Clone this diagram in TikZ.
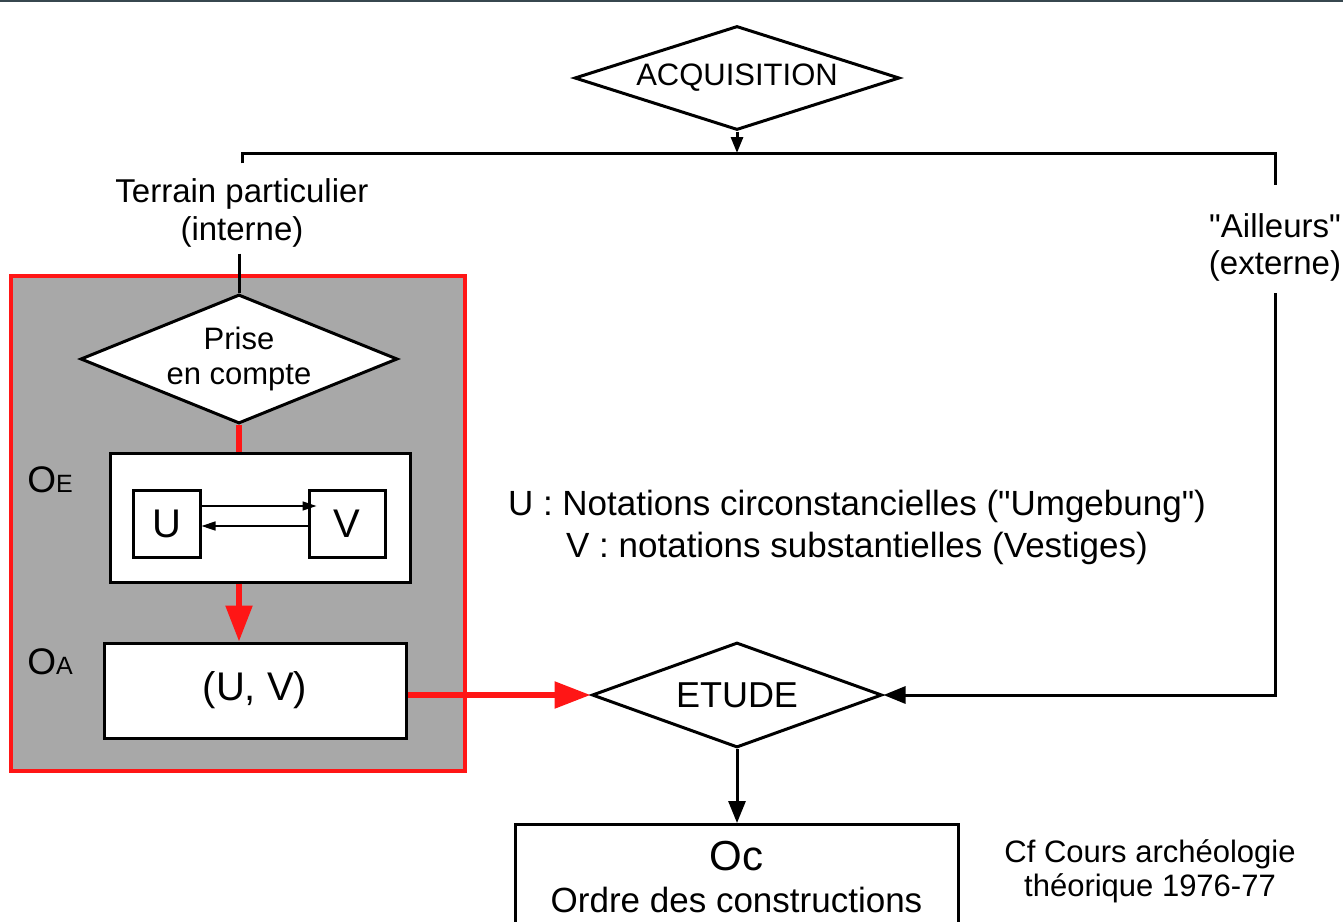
\documentclass[tikz,border=0pt]{standalone}
\usepackage{fontspec}
\setmainfont{Liberation Sans}[Ligatures=TeXOff]
\usetikzlibrary{arrows.meta,positioning,shapes.geometric}
\tikzset{>/.tip={Triangle[length=22pt,width=17pt]}}
\tikzset{Small/.tip={Triangle[length=16pt,width=12pt]}}
\tikzset{Tiny/.tip={Triangle[length=14pt,width=9pt]}}
\tikzset{Big/.tip={Triangle[length=36pt,width=26pt]}}
\definecolor{slate}{RGB}{55,71,79}
\definecolor{boxred}{RGB}{255,22,22}
\definecolor{boxgrey}{RGB}{168,168,168}
\newcommand{\setfs}[2]{\fontsize{#1}{#2}\selectfont}

\begin{document}
\begin{tikzpicture}[x=1pt,y=-1pt,
    decision/.style={diamond,draw,fill=white,line width=3pt,inner sep=0pt,align=center},
    block/.style={draw,fill=white,line width=3pt,inner sep=0pt},
    txt/.style={inner sep=0pt,align=center},
    link/.style={line width=3pt},
    redlink/.style={boxred,line width=5.5pt}]
  \useasboundingbox (0,0) rectangle (1343,921);
  \clip (0,0) rectangle (1343,921);
  \fill[slate] (0,0) rectangle (1343,2);

  % decision nodes
  \node[decision,shape aspect=3.5,minimum width=325,minimum height=104,font=\setfs{31}{37}]
    (acq) at (737,78) {ACQUISITION};
  \node[decision,shape aspect=3,minimum width=290,minimum height=105,font=\setfs{36}{40}]
    (etude) at (737,695) {ETUDE};

  % the two sources
  \node[txt,font=\setfs{33}{38}] (terrain) at (242,213) {Terrain particulier\\(interne)};
  \node[txt,font=\setfs{33}{37}] (ailleurs) at (1275,247) {"Ailleurs"\\(externe)};
  \coordinate (split) at (737,153);

  % internal field
  \node[draw=boxred,fill=boxgrey,line width=4pt,minimum width=454,minimum height=495]
    (intern) at (238,523.5) {};
  \node[decision,shape aspect=2.45,minimum width=317,minimum height=129,font=\setfs{31}{35}]
    (prise) at (239,359) {Prise\\en compte};
  \node[block,minimum width=300,minimum height=129] (oe) at (260,517.5) {};
  \node[block,minimum width=67,minimum height=67,font=\setfs{40}{48}] (u) at (166.5,523.5) {U};
  \node[block,minimum width=76,minimum height=67,font=\setfs{40}{48}] (v) at (347,523.5) {V};
  \node[block,minimum width=302,minimum height=95,font=\setfs{40}{46}] (oa) at (255,690.5) {(U, V)};
  \node[txt] (oelab) at (50,480) {\setfs{37}{40}O\setfs{25}{30}E};
  \node[txt] (oalab) at (50,662) {\setfs{37}{40}O\setfs{25}{30}A};

  % legend
  \node[txt,font=\setfs{35}{42}] (legend) at (857,527)
    {U : Notations circonstancielles ("Umgebung")\\V : notations substantielles (Vestiges)};

  % result
  \node[block,minimum width=443,minimum height=130,anchor=north] (oc) at (736.5,823) {};
  \node[anchor=base,inner sep=0pt,font=\setfs{42}{48}] (octitle) at ([yshift=-47pt]oc.north) {Oc};
  \node[anchor=base,inner sep=0pt,font=\setfs{35}{42}] (ocdesc) at ([yshift=-89pt]oc.north) {Ordre des constructions};
  \node[txt,font=\setfs{31}{34}] (cf) at (1150,871) {Cf Cours archéologie\\théorique 1976-77};

  % connectors
  \draw[link,-Small] (acq.south) -- (split);
  \draw[link] ([yshift=15pt]terrain.north) |- (split) -| ([yshift=28pt]ailleurs.north);
  \draw[link] (prise.north |- terrain.south) ++(0,6) -- (prise.north);
  \draw[link,->] ([yshift=-12pt]ailleurs.south) |- (etude.east);
  \draw[redlink] (prise.south) -- (prise.south |- oe.north);
  \draw[redlink,-Big] (prise.south |- oe.south) -- (prise.south |- oa.north);
  \draw[redlink,-Big] (oa.east |- etude.west) -- (etude.west);
  \draw[link,->] (etude.south) -- (oc.north -| etude.south);
  \draw[line width=1.5pt,-Tiny] ([yshift=17.5pt]u.east) -- ([xshift=9pt,yshift=17.5pt]v.west);
  \draw[line width=1.5pt,-Tiny] ([yshift=-2.5pt]v.west) -- ([yshift=-2.5pt]u.east);
\end{tikzpicture}
\end{document}
